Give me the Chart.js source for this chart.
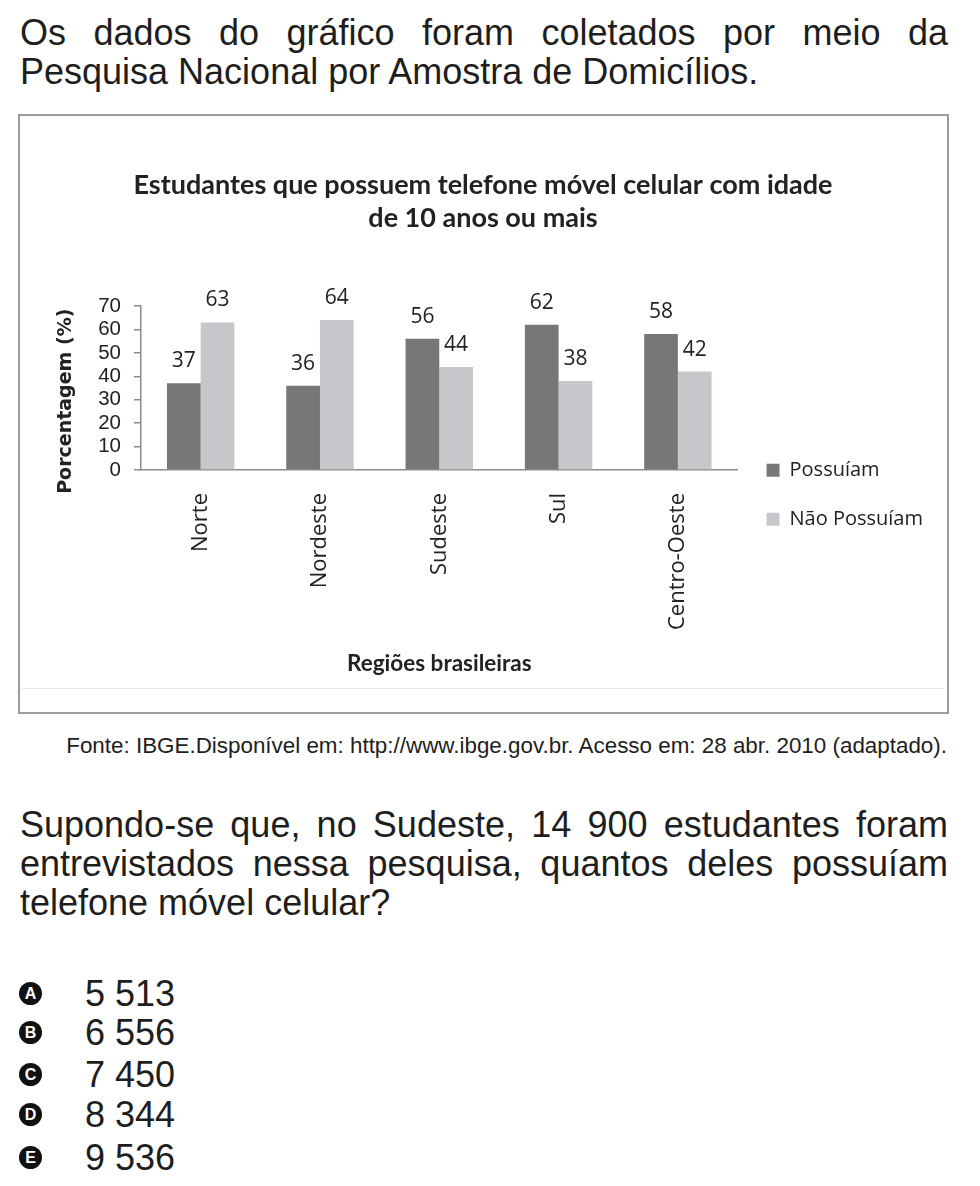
<!DOCTYPE html>
<html lang="pt-BR">
<head>
<meta charset="utf-8">
<title>Estudantes que possuem telefone móvel celular</title>
<script src="https://cdn.jsdelivr.net/npm/chart.js@4.4.1/dist/chart.umd.min.js"></script>
<style>
  html, body { margin: 0; padding: 0; background: #fff; }
  body { width: 980px; height: 1186px; position: relative; overflow: hidden;
         font-family: "Liberation Sans", Arial, sans-serif; color: #1e1e1e; }
  .line { position: absolute; left: 20px; width: 928px; font-size: 36px; line-height: 39px; white-space: nowrap; }
  .just { text-align: justify; text-align-last: justify; white-space: normal; }
  #frame { position: absolute; left: 18px; top: 114px; width: 927px; height: 596px; border: 2px solid #9b9b9b; }
  #frame .sep { position: absolute; left: 2px; right: 2px; top: 572px; height: 1px; background: #e6e6e6; }
  #box { position: absolute; left: 19px; top: 115px; width: 927px; height: 573px; }
  #fonte { position: absolute; right: 33px; top: 733px; font-size: 22.4px; line-height: 26px; white-space: nowrap; }
  .opt { position: absolute; left: 0; height: 41px; font-size: 36px; line-height: 41px; }
  .opt .bullet { position: absolute; left: 19px; top: 9px; width: 23px; height: 23px; border-radius: 50%;
                 background: #111; color: #fff; font-weight: bold; font-size: 16px; line-height: 23px; text-align: center; }
  .opt .num { position: absolute; left: 85px; white-space: nowrap; }
</style>
</head>
<body>
<div class="line just" style="top:13px">Os dados do gráfico foram coletados por meio da</div>
<div class="line" style="top:52px">Pesquisa Nacional por Amostra de Domicílios.</div>

<div id="frame"><div class="sep"></div></div>
<div id="box"><canvas id="chartCanvas" width="927" height="573"></canvas></div>

<div id="fonte">Fonte: IBGE.Disponível em: http://www.ibge.gov.br. Acesso em: 28 abr. 2010 (adaptado).</div>

<div class="line just" style="top:805px">Supondo-se que, no Sudeste, 14 900 estudantes foram</div>
<div class="line just" style="top:844px">entrevistados nessa pesquisa, quantos deles possuíam</div>
<div class="line" style="top:883px">telefone móvel celular?</div>

<div class="opt" style="top:973px"><span class="bullet">A</span><span class="num">5 513</span></div>
<div class="opt" style="top:1012px"><span class="bullet">B</span><span class="num">6 556</span></div>
<div class="opt" style="top:1054px"><span class="bullet">C</span><span class="num">7 450</span></div>
<div class="opt" style="top:1094px"><span class="bullet">D</span><span class="num">8 344</span></div>
<div class="opt" style="top:1137px"><span class="bullet">E</span><span class="num">9 536</span></div>

<script>
// Dados do gráfico (PNAD)
const regioes = ['Norte', 'Nordeste', 'Sudeste', 'Sul', 'Centro-Oeste'];
const possuiam = [37, 36, 56, 62, 58];
const naoPossuiam = [63, 64, 44, 38, 42];
const serieNomes = ['Possuíam', 'Não Possuíam'];
const yMax = 70;
const yStep = 10;

const corEscura = '#777777';
const corClara = '#c6c7cb';
const corTexto = '#222';
const corEixo = '#8c8c8c';

// Escreve o valor acima de cada barra
const valueLabels = {
    id: 'valueLabels',
    afterDatasetsDraw(chart) {
        const ctx = chart.ctx;
        ctx.save();
        ctx.font = '21px "Open Sans"';
        ctx.fillStyle = corTexto;
        ctx.textAlign = 'center';
        ctx.textBaseline = 'middle';
        chart.data.datasets.forEach((ds, i) => {
            chart.getDatasetMeta(i).data.forEach((bar, j) => {
                ctx.fillText(ds.data[j], bar.x, bar.y - 22);
            });
        });
        ctx.restore();
    }
};

const config = {
    type: 'bar',
    data: {
        labels: regioes,
        datasets: [{
            label: serieNomes[0],
            data: possuiam,
            backgroundColor: corEscura,
            borderWidth: 0
        }, {
            label: serieNomes[1],
            data: naoPossuiam,
            backgroundColor: corClara,
            borderWidth: 0
        }]
    },
    options: {
        responsive: false,
        animation: false,
        devicePixelRatio: 1,
        categoryPercentage: 0.565,
        barPercentage: 1,
        layout: {
            padding: { left: 14, right: 13, top: 0, bottom: 8 }
        },
        plugins: {
            tooltip: { enabled: false },
            title: {
                display: true,
                text: ['Estudantes que possuem telefone móvel celular com idade', 'de 10 anos ou mais'],
                color: corTexto,
                font: { family: 'Lato', size: 27, weight: 'bold', lineHeight: '33px' },
                padding: { top: 53.5, bottom: 71.5 }
            },
            legend: {
                display: true,
                position: 'right',
                align: 'center',
                // título vazio só para empurrar a legenda para baixo
                title: {
                    display: true,
                    text: ' ',
                    font: { size: 12 },
                    padding: { top: 0, bottom: 180 }
                },
                labels: {
                    color: corTexto,
                    font: { family: '"Open Sans"', size: 20 },
                    boxWidth: 13,
                    boxHeight: 13,
                    padding: 29
                }
            }
        },
        scales: {
            x: {
                grid: { display: false },
                border: { display: true, color: corEixo, width: 1.5 },
                ticks: {
                    color: corTexto,
                    font: { family: '"Open Sans"', size: 22 },
                    minRotation: 90,
                    maxRotation: 90,
                    padding: 15,
                    autoSkip: false
                },
                title: {
                    display: true,
                    text: 'Regiões brasileiras',
                    color: corTexto,
                    font: { family: 'Lato', size: 22.5, weight: 'bold' },
                    padding: { top: 0, bottom: 3 }
                },
                afterFit: (scale) => { scale.height = 210; }
            },
            y: {
                min: 0,
                max: yMax,
                grid: {
                    drawOnChartArea: false,
                    drawTicks: true,
                    tickLength: 7,
                    color: corEixo,
                    lineWidth: 1.5
                },
                border: { display: true, color: corEixo, width: 1.5 },
                ticks: {
                    stepSize: yStep,
                    autoSkip: false,
                    color: corTexto,
                    font: { family: '"Liberation Sans"', size: 20.5 },
                    padding: 13
                },
                title: {
                    display: true,
                    text: 'Porcentagem (%)\u00a0\u00a0\u00a0\u00a0',
                    color: corTexto,
                    font: { family: '"DejaVu Sans"', size: 19, weight: 'bold' },
                    padding: { top: 22, bottom: 0 }
                },
                afterFit: (scale) => { scale.width = 108; }
            }
        }
    },
    plugins: [valueLabels]
};

const ctx = document.getElementById('chartCanvas').getContext('2d');
const chart = new Chart(ctx, config);
</script>
</body>
</html>
